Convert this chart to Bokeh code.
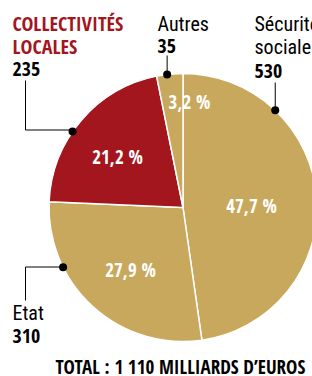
import math
from bokeh.plotting import figure
from bokeh.models import Range1d
from bokeh.core.properties import value
from bokeh.embed import file_html
from bokeh.resources import INLINE

# ---- data ----
categories = ["Sécurité sociale", "Etat", "Collectivités locales", "Autres"]
amounts = [530, 310, 235, 35]
pct_labels = ["47,7 %", "27,9 %", "21,2 %", "3,2 %"]
slice_colors = ["#C8A85C", "#C8A85C", "#A3161E", "#C8A85C"]
total_label = "TOTAL : 1 110 MILLIARDS D\u2019EUROS"

BOLD_FONT = "Open Sans Condensed"
REG_FONT = "Roboto Condensed"
RED = "#A3161E"

# layout (reference pixel space, y downward -> plotted as negative y)
CX, CY, R = 182.5, 207.0, 134.0
W, H = 312, 376
TY = -7  # text baseline correction

p = figure(width=W, height=H, output_backend="svg", toolbar_location=None,
           x_range=Range1d(0, W), y_range=Range1d(-H, 0),
           min_border=0, background_fill_color="white", border_fill_color="white")
p.axis.visible = False
p.grid.visible = False
p.outline_line_color = None

total = sum(amounts)
cum = 0.0
starts, ends = [], []
for a in amounts:
    a0 = cum / total * 2 * math.pi
    cum += a
    a1 = cum / total * 2 * math.pi
    starts.append(math.pi / 2 - a1)
    ends.append(math.pi / 2 - a0)

p.wedge(x=[CX] * 4, y=[-CY] * 4, radius=R, start_angle=starts, end_angle=ends,
        fill_color=slice_colors, line_color="white", line_width=1.5)

# percentage labels (center x, baseline y)
lab_pos = [(251, 212), (130, 276), (117, 163), (189, 108)]
p.text(x=[q[0] for q in lab_pos], y=[-(q[1] + TY) for q in lab_pos], text=pct_labels,
       text_font=value(BOLD_FONT), text_font_style="bold", text_font_size="19px",
       text_color="white", text_align="center", text_baseline="alphabetic")

def rim(angle_deg):
    t = math.radians(angle_deg)
    return CX + R * math.sin(t), CY - R * math.cos(t)

dots = []
d = rim(304.5); dots.append(d)
p.line(x=[25, 25, d[0]], y=[-80, -129.5, -129.5], line_color="black", line_width=1)
d = rim(353.2); dots.append(d)
p.line(x=[d[0], d[0]], y=[-55, -d[1]], line_color="black", line_width=1)
d = rim(43.5); dots.append(d)
p.line(x=[d[0], d[0]], y=[-82, -d[1]], line_color="black", line_width=1)
d = rim(243.5); dots.append(d)
p.line(x=[25, 25, d[0]], y=[-300, -266.5, -266.5], line_color="black", line_width=1)
p.scatter(x=[q[0] for q in dots], y=[-q[1] for q in dots], size=8,
          fill_color="black", line_color=None)

def txt(x, y, s, color="black", bold=False, size="20px"):
    p.text(x=[x], y=[-(y + TY)], text=[s], text_font=value(BOLD_FONT if bold else REG_FONT),
           text_font_style="bold" if bold else "normal", text_font_size=size,
           text_color=color, text_align="left", text_baseline="alphabetic")

txt(12, 30, "COLLECTIVITÉS", RED, True, "20px")
txt(12, 53, "LOCALES", RED, True, "20px")
txt(12, 75, str(amounts[2]), "black", True, "20px")
txt(157, 30, "Autres", "black", False, "20px")
txt(157, 52, str(amounts[3]), "black", True, "20px")
txt(254, 30, "Sécurité", "black", False, "20px")
txt(254, 53, "sociale", "black", False, "20px")
txt(254, 77, str(amounts[0]), "black", True, "20px")
txt(12, 319, "Etat", "black", False, "20px")
txt(12, 342, str(amounts[1]), "black", True, "20px")
txt(55, 373, total_label, "black", True, "19px")

open("out.html", "w").write(file_html(p, INLINE))
